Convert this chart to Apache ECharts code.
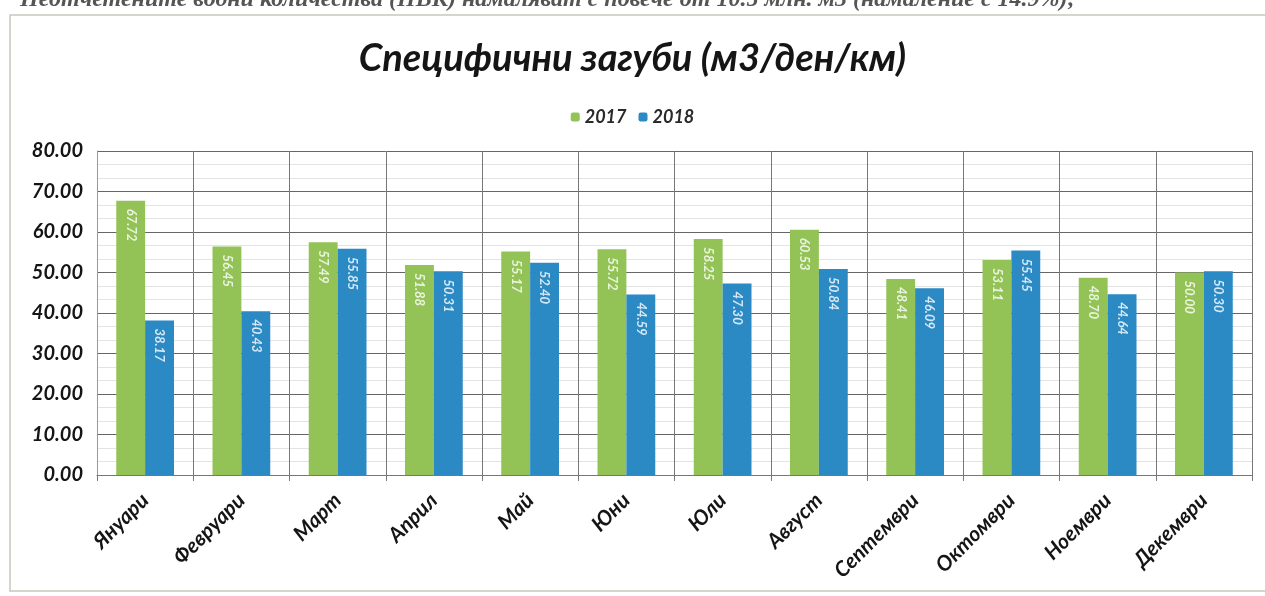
<!DOCTYPE html>
<html lang="bg">
<head>
    <meta charset="UTF-8">
    <title>Специфични загуби</title>
    <script src="https://cdn.jsdelivr.net/npm/echarts@6/dist/echarts.min.js"></script>
    <style>
        html, body { margin: 0; padding: 0; background: #fff; }
        #main { width: 1265px; height: 596px; }
    </style>
</head>
<body>
<div id="main"></div>
<script type="text/javascript">
    // месеци
    var months = ['Януари', 'Февруари', 'Март', 'Април', 'Май', 'Юни',
        'Юли', 'Август', 'Септември', 'Октомври', 'Ноември', 'Декември'];
    // специфични загуби 2017
    var data2017 = [67.72, 56.45, 57.49, 51.88, 55.17, 55.72, 58.25, 60.53, 48.41, 53.11, 48.70, 50.00];
    // специфични загуби 2018
    var data2018 = [38.17, 40.43, 55.85, 50.31, 52.40, 44.59, 47.30, 50.84, 46.09, 55.45, 44.64, 50.30];

    var green = '#93c356';
    var blue = '#2b89c4';
    var font = 'Lato';

    function barLabel() {
        return {
            show: true,
            position: 'insideTop',
            distance: 8,
            rotate: -90,
            align: 'left',
            verticalAlign: 'middle',
            color: 'rgba(255,255,255,0.8)',
            fontFamily: font,
            fontSize: 13,
            fontWeight: 'bold',
            fontStyle: 'italic',
            formatter: function (p) { return p.value.toFixed(2); }
        };
    }

    var myChart = echarts.init(document.getElementById('main'));

    var option = {
        backgroundColor: '#fff',
        animation: false,
        title: {
            text: 'Специфични загуби (м3/ден/км)',
            left: 'center',
            top: 35,
            textStyle: {
                fontFamily: font,
                fontSize: 38,
                fontWeight: 'bold',
                fontStyle: 'italic',
                color: '#151515'
            }
        },
        legend: {
            top: 103,
            left: 'center',
            itemWidth: 9,
            itemHeight: 9,
            itemGap: 12,
            data: ['2017', '2018'],
            textStyle: {
                fontFamily: font,
                fontSize: 18,
                fontWeight: 'bold',
                fontStyle: 'italic',
                color: '#2a2a2a'
            }
        },
        graphic: [
            {
                type: 'rect',
                shape: { x: 10, y: 15, width: 1262, height: 576 },
                style: { fill: 'none', stroke: '#c8c8bc', lineWidth: 1.5 }
            },
            {
                type: 'text',
                left: 20,
                top: -12,
                style: {
                    text: 'Неотчетените водни количества (НВК) намаляват с повече от 10.5 млн. м3 (намаление с 14.9%);',
                    font: 'italic bold 24px "Liberation Serif"',
                    fill: '#555'
                }
            }
        ],
        grid: {
            left: 97,
            right: 13,
            top: 151,
            bottom: 121
        },
        xAxis: {
            type: 'category',
            data: months,
            axisTick: { show: true, alignWithLabel: false, length: 6, lineStyle: { color: '#777' } },
            axisLine: { lineStyle: { color: '#777' } },
            splitLine: { show: true, lineStyle: { color: '#777', width: 1 } },
            axisLabel: {
                rotate: 45,
                margin: 22,
                fontFamily: font,
                fontSize: 21,
                fontWeight: 'bold',
                fontStyle: 'italic',
                color: '#151515'
            }
        },
        yAxis: {
            type: 'value',
            min: 0,
            max: 80,
            interval: 10,
            axisLine: { show: true, lineStyle: { color: '#999' } },
            splitLine: { lineStyle: { color: '#666', width: 1 } },
            minorTick: { show: false, splitNumber: 3 },
            minorSplitLine: { show: true, lineStyle: { color: '#e3e3e3' } },
            axisLabel: {
                margin: 14,
                fontFamily: font,
                fontSize: 20,
                fontWeight: 'bold',
                fontStyle: 'italic',
                color: '#151515',
                formatter: function (v) { return v.toFixed(2); }
            }
        },
        series: [
            {
                name: '2017',
                type: 'bar',
                data: data2017,
                barGap: '0%',
                barCategoryGap: '40%',
                itemStyle: { color: green },
                label: barLabel()
            },
            {
                name: '2018',
                type: 'bar',
                data: data2018,
                itemStyle: { color: blue },
                label: barLabel()
            }
        ]
    };

    myChart.setOption(option);
</script>
</body>
</html>
